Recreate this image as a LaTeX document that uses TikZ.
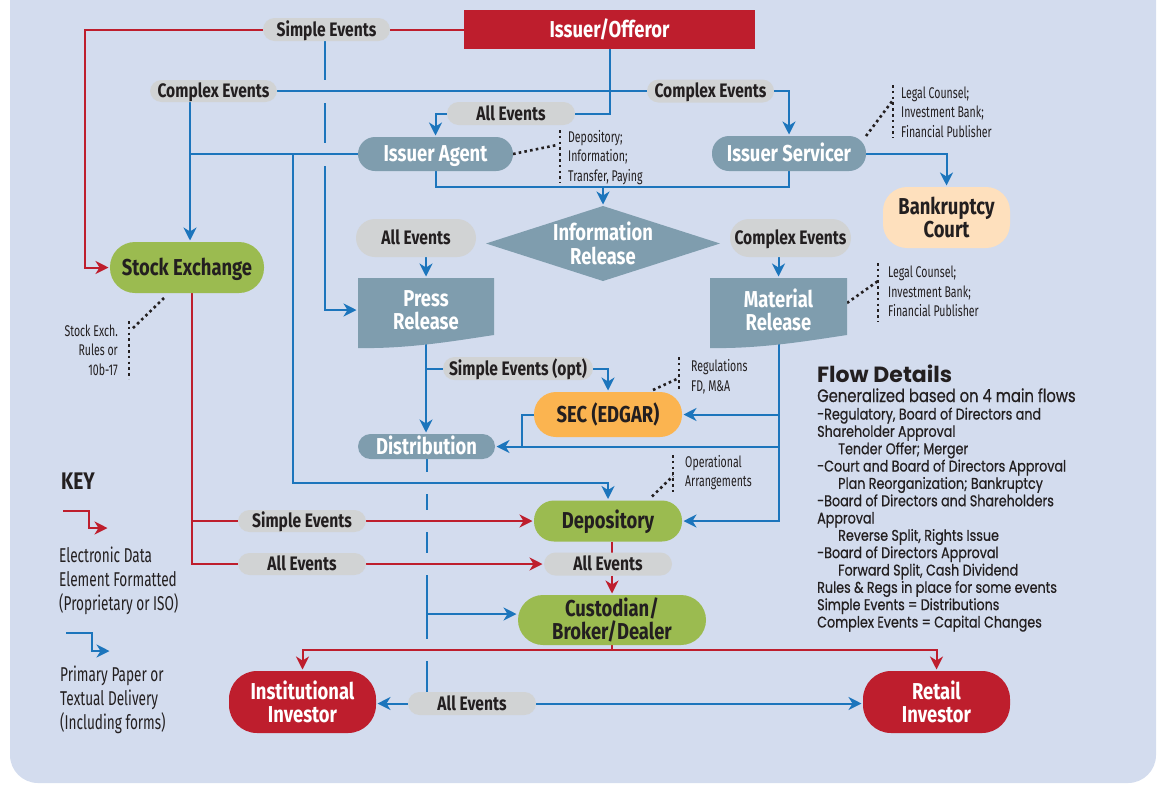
\documentclass[tikz,border=0pt]{standalone}
\usepackage{fontspec}
\usetikzlibrary{arrows.meta,calc}
\newfontfamily\condB[FakeStretch=0.8]{Fira Sans}
\newfontfamily\condR[FakeStretch=0.68]{Fira Sans}
\newfontfamily\flowR[FakeStretch=0.82,FakeBold=0.6]{Poppins}
\newfontfamily\flowH{Poppins}
\definecolor{bgc}{HTML}{D3DCEE}
\definecolor{redc}{HTML}{BE1E2D}
\definecolor{pillc}{HTML}{D1D3D4}
\definecolor{steelc}{HTML}{7F9DAE}
\definecolor{greenc}{HTML}{9BBB50}
\definecolor{orangec}{HTML}{FBB450}
\definecolor{peachc}{HTML}{FEE0BD}
\definecolor{bluec}{HTML}{1C75BC}
\definecolor{ink}{HTML}{231F20}
\pgfdeclarelayer{back}
\pgfdeclarelayer{lines}
\pgfdeclarelayer{shapes}
\pgfsetlayers{back,lines,shapes,main}
\tikzset{
  basenode/.style={inner sep=0pt, outer sep=0pt, align=center},
  mainnode/.style={basenode, font=\condB\bfseries\fontsize{23}{23.5}\selectfont},
  one/.style={text height=15.9pt, text depth=0pt},
  rbox/.style={mainnode, fill=redc, text=white},
  sbox/.style={mainnode, fill=steelc, text=white},
  gbox/.style={mainnode, fill=greenc, text=ink},
  pill/.style={basenode, fill=pillc, text=ink, rounded corners=11.5pt, minimum height=23pt,
    font=\condB\bfseries\fontsize{19.5}{20}\selectfont, text height=13.4pt, text depth=0pt},
  ann/.style={inner sep=0pt, align=left, text=ink, font=\condR\fontsize{15.5}{19.5}\selectfont},
  keytxt/.style={inner sep=0pt, align=left, text=ink, font=\condR\fontsize{20}{24}\selectfont},
  flowtxt/.style={inner sep=0pt, anchor=base west, text=ink, font=\flowR\fontsize{15.5}{17}\selectfont},
  bl/.style={draw=bluec, line width=2pt},
  rd/.style={draw=redc, line width=2pt},
  arr/.style={-{Stealth[length=13pt,width=13pt,inset=4pt]}, shorten >=1.5pt},
  dotl/.style={draw=ink, line width=2.6pt, dash pattern=on 2.6pt off 3.2pt}
}
\begin{document}
\begin{tikzpicture}[x=1pt,y=-1pt]
\useasboundingbox (0,0) rectangle (1159,785);
\begin{pgfonlayer}{back}
\fill[bgc, rounded corners=28pt] (10,-40) rectangle (1156,783);
\end{pgfonlayer}

% ---------- nodes ----------
\node[rbox, one, minimum width=291pt, minimum height=39pt] (issuer) at (609.5,29.5) {Issuer/Offeror};
\node[pill, minimum width=127pt] (se1) at (326.5,29.5) {Simple Events};
\node[pill, minimum width=127pt, minimum height=22pt] (ce1) at (213.5,91) {Complex Events};
\node[pill, minimum width=128pt] (ae1) at (511,113.5) {All Events};
\node[pill, minimum width=127pt] (ce2) at (710.5,91) {Complex Events};
\node[sbox, one, minimum width=155pt, minimum height=34pt, rounded corners=17pt] (agent) at (435.5,154) {Issuer Agent};
\node[sbox, one, minimum width=154pt, minimum height=35pt, rounded corners=17pt] (servicer) at (789,153.5) {Issuer Servicer};
\node[mainnode, fill=peachc, text=ink, minimum width=127pt, minimum height=61pt, rounded corners=24pt] (bank) at (946.5,217.5) {Bankruptcy\\Court};
\node[mainnode, text=white, minimum width=234pt, minimum height=75pt] (info) at (603,243.5) {Information\\Release};
\node[pill, minimum width=120pt, minimum height=38pt, rounded corners=19pt] (ae2) at (416,238) {All Events};
\node[pill, minimum width=121pt, minimum height=38pt, rounded corners=19pt] (ce3) at (790.5,238) {Complex Events};
\node[mainnode, text=white, minimum width=136pt, minimum height=64pt] (press) at (426,310) {Press\\Release};
\node[mainnode, text=white, minimum width=137pt, minimum height=64pt] (material) at (778.5,310) {Material\\Release};
\node[pill, minimum width=150pt] (seo) at (518,368.5) {Simple Events (opt)};
\node[mainnode, one, fill=orangec, text=ink, minimum width=148pt, minimum height=45pt, rounded corners=22pt] (sec) at (608,414.5) {SEC (EDGAR)};
\node[sbox, one, minimum width=137pt, minimum height=25pt, rounded corners=12.5pt] (dist) at (426.5,446.5) {Distribution};
\node[gbox, one, minimum width=154pt, minimum height=51pt, rounded corners=25pt] (stock) at (187,267.5) {Stock Exchange};
\node[pill, minimum width=128pt, minimum height=22pt] (se2) at (302,521) {Simple Events};
\node[pill, minimum width=128pt, minimum height=22pt] (ae3) at (302,564) {All Events};
\node[gbox, one, minimum width=148pt, minimum height=41pt, rounded corners=20pt] (depo) at (608,521) {Depository};
\node[pill, minimum width=128pt] (ae4) at (608,564) {All Events};
\node[gbox, minimum width=188pt, minimum height=50pt, rounded corners=25pt] (cust) at (612,620) {Custodian/\\Broker/Dealer};
\node[rbox, minimum width=147pt, minimum height=62pt, rounded corners=28pt] (inst) at (302.5,702) {Institutional\\Investor};
\node[rbox, minimum width=147pt, minimum height=62pt, rounded corners=28pt] (retail) at (936.5,702) {Retail\\Investor};
\node[pill, minimum width=128pt] (ae5) at (472,703.5) {All Events};

% annotations
\node[ann, anchor=west] (a1) at (568,157.5) {Depository;\\Information;\\Transfer, Paying};
\node[ann, anchor=west] (a2) at (901,112) {Legal Counsel;\\Investment Bank;\\Financial Publisher};
\node[ann, anchor=west] (a3) at (888,291.5) {Legal Counsel;\\Investment Bank;\\Financial Publisher};
\node[ann, anchor=west] (a4) at (691,376.5) {Regulations\\FD, M\&A};
\node[ann, anchor=west] (a5) at (685,472.5) {Operational\\Arrangements};
\node[ann, anchor=east, align=right] (a6) at (118,350) {Stock Exch.\\Rules or\\10b-17};

% key
\node[inner sep=0pt, anchor=west, text=ink, font=\condB\bfseries\fontsize{24}{24}\selectfont] (key) at (61,481) {KEY};
\node[keytxt, anchor=west] (kt1) at (59,581) {Electronic Data\\Element Formatted\\(Proprietary or ISO)};
\node[keytxt, anchor=west] (kt2) at (60,699.5) {Primary Paper or\\Textual Delivery\\(Including forms)};

% flow details
\node[inner sep=0pt, anchor=base west, text=ink, font=\flowH\bfseries\fontsize{22}{22}\selectfont] (fh) at (817,382.5) {Flow Details};
\node[flowtxt, font=\flowR\fontsize{18}{18}\selectfont] (fg) at (817,402) {Generalized based on 4 main flows};
\node[flowtxt] (f1) at (817,419.5) {-Regulatory, Board of Directors and};
\node[flowtxt] (f2) at (817,436.8) {Shareholder Approval};
\node[flowtxt] (f3) at (838,454.2) {Tender Offer; Merger};
\node[flowtxt] (f4) at (817,471.5) {-Court and Board of Directors Approval};
\node[flowtxt] (f5) at (838,488.8) {Plan Reorganization; Bankruptcy};
\node[flowtxt] (f6) at (817,506.2) {-Board of Directors and Shareholders};
\node[flowtxt] (f7) at (817,523.5) {Approval};
\node[flowtxt] (f8) at (838,540.8) {Reverse Split, Rights Issue};
\node[flowtxt] (f9) at (817,558.1) {-Board of Directors Approval};
\node[flowtxt] (f10) at (838,575.5) {Forward Split, Cash Dividend};
\node[flowtxt] (f11) at (817,592.8) {Rules \& Regs in place for some events};
\node[flowtxt] (f12) at (817,610.1) {Simple Events = Distributions};
\node[flowtxt] (f13) at (817,627.5) {Complex Events = Capital Changes};

% ---------- shapes under text ----------
\begin{pgfonlayer}{shapes}
\fill[steelc] (info.north) -- (info.east) -- (info.south) -- (info.west) -- cycle;
\fill[steelc] (press.north west) -- (press.north east) -- ($(press.north east)+(0,57)$)
  .. controls ($(press.north east)+(-34,62)$) and ($(press.north west)+(52,71)$) .. ($(press.north west)+(0,70)$) -- cycle;
\fill[steelc] (material.north west) -- (material.north east) -- ($(material.north east)+(0,57)$)
  .. controls ($(material.north east)+(-34,62)$) and ($(material.north west)+(52,71)$) .. ($(material.north west)+(0,70)$) -- cycle;
\end{pgfonlayer}

% ---------- connectors ----------
\begin{pgfonlayer}{lines}
% red
\draw[rd] (issuer.west) -- (se1.east);
\coordinate (r2) at (85,29.5);
\draw[rd,arr] (se1.west) -- (r2) |- (stock.west);
\coordinate (sx) at (191.5,293);
\draw[rd] (sx) |- (ae3.west);
\draw[rd] (sx |- se2.west) -- (se2.west);
\draw[rd,arr] (se2.east) -- (depo.west);
\draw[rd,arr] (ae3.east) -- (ae4.west);
\draw[rd] (depo.south -| cust.north) -- (ae4.north -| cust.north);
\draw[rd,arr] (ae4.south -| cust.north) -- (cust.north);
\coordinate (rl) at (612,650);
\draw[rd] (cust.south) -- (rl);
\draw[rd,arr] (rl) -| (inst.north);
\draw[rd,arr] (rl) -| (retail.north);
% blue
\draw[bl] (issuer.south) |- (ae1.east);
\draw[bl,arr] (ae1.west) -| (agent.north);
\draw[bl] (ce1.east) -- (ce2.west);
\draw[bl,arr] (ce2.east) -| (servicer.north);
\coordinate (c1) at (190,102);
\draw[bl,arr] (c1) -- (c1 |- stock.north);
\draw[bl] (agent.west) -- (c1 |- agent.west);
\coordinate (j1) at (293,154);
\coordinate (j2) at (293,483);
\draw[bl,arr] (j1) -- (j2) -| (depo.north);
\coordinate (v1) at (325,0);
\draw[bl] (se1.south -| v1) -- (325,80);
\draw[bl] (325,103) -- (325,143);
\draw[bl,arr] (325,166) |- (press.west);
\coordinate (hb) at (0,187);
\draw[bl] (agent.south) -- (agent.south |- hb) -| (servicer.south);
\draw[bl,arr] (info.north |- hb) -- (info.north);
\draw[bl,arr] (press.north |- ae2.south) -- (press.north);
\draw[bl,arr] (material.north |- ce3.south) -- (material.north);
\draw[bl,arr] (servicer.east) -| (bank.north);
\draw[bl,arr] (press.south) -- (press.south |- dist.north);
\draw[bl] (press.south |- seo.west) -- (seo.west);
\draw[bl,arr] (seo.east) -| (sec.north);
\draw[bl,arr] (material.south) |- (depo.east);
\draw[bl,arr] (material.south |- sec.east) -- (sec.east);
\draw[bl,arr] (material.south |- dist.east) -- (dist.east);
\coordinate (s1) at (522,446.5);
\draw[bl] (sec.west) -| (s1);
\draw[bl] (dist.south) -- (426.5,472);
\draw[bl] (426.5,494) -- (426.5,510);
\draw[bl] (426.5,532) -- (426.5,553);
\draw[bl] (426.5,575) -- (426.5,639);
\draw[bl] (426.5,661) -- (ae5.north -| dist.south);
\coordinate (b1) at (426.5,614);
\draw[bl,arr] (b1) -- (b1 -| cust.west);
\draw[bl,arr] (ae5.west) -- (ae5.west -| inst.east);
\draw[bl,arr] (ae5.east) -- (ae5.east -| retail.west);
% key arrows
\coordinate (k1) at (63,511);
\coordinate (k2) at (109,528);
\draw[rd,arr] (k1) -- (89,511) -- (89,528) -- (k2);
\coordinate (k3) at (66,633);
\coordinate (k4) at (111,651);
\draw[bl,arr] (k3) -- (92,633) -- (92,651) -- (k4);
% dotted callouts
\draw[dotl] (agent.east) -- (557,145);
\draw[dotl] (560,130) -- (560,183);
\draw[dotl] (servicer.north east) -- (893,100);
\draw[dotl] (893,85) -- (893,138);
\draw[dotl] ($(material.east)+(0,-7)$) -- (878,281);
\draw[dotl] (878,263) -- (878,322);
\draw[dotl] ($(sec.north east)+(-29,-2)$) -- (679,378);
\draw[dotl] (679,357) -- (679,391);
\draw[dotl] ($(depo.north)+(44,-4)$) -- (673,476);
\draw[dotl] (673,455) -- (673,495);
\draw[dotl] ($(stock.south)+(-23,5)$) -- (131,330);
\draw[dotl] (129,321) -- (129,379);
\end{pgfonlayer}
\end{tikzpicture}
\end{document}
